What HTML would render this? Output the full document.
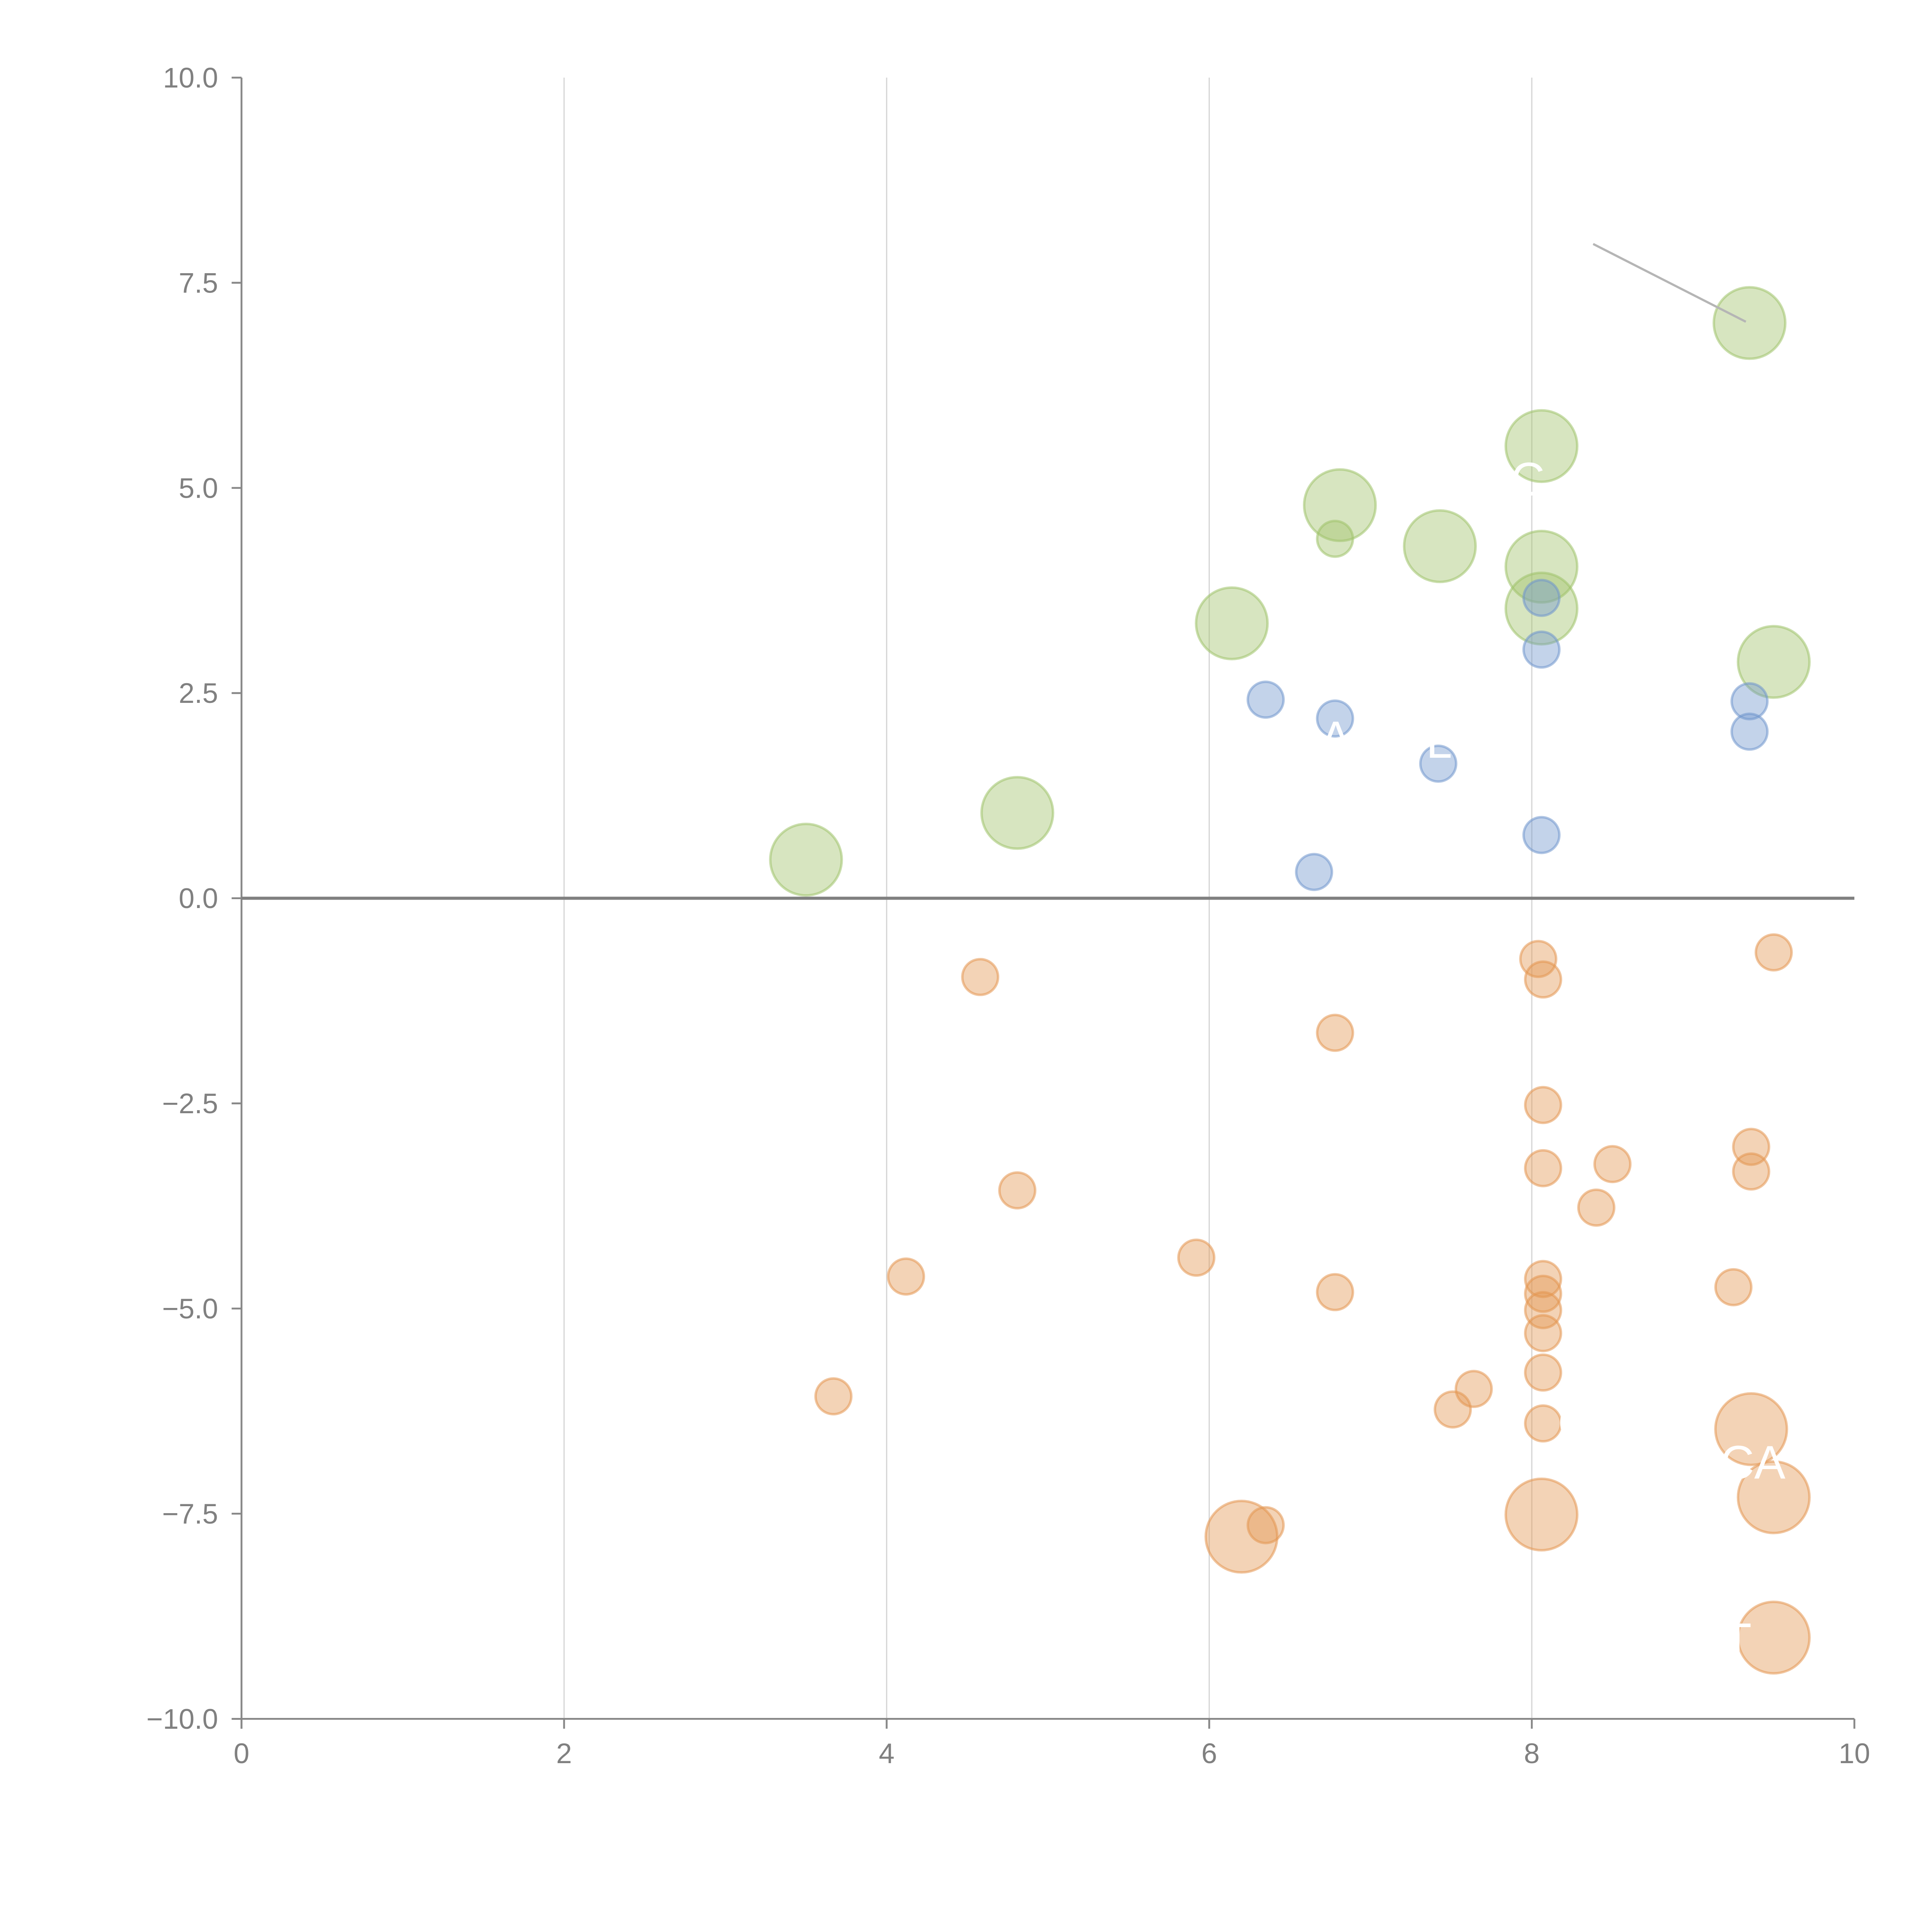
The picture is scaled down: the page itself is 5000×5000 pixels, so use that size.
<!DOCTYPE html>
<html><head><meta charset="utf-8">
<style>html,body{margin:0;padding:0;background:#fff;}svg{display:block;}</style>
</head><body>
<svg id="chart" width="5000" height="5000" viewBox="0 0 1568 1568" xmlns="http://www.w3.org/2000/svg" font-family="Liberation Sans, Arial, sans-serif">
<g id="grid"></g>
<g id="axes"></g>
<g id="marks"></g>
<g id="labels"></g>
</svg>
<script>
const xTicks = [0, 2, 4, 6, 8, 10];
const yTicks = [10, 7.5, 5, 2.5, 0, -2.5, -5, -7.5, -10];
const yTickLabels = ["10.0", "7.5", "5.0", "2.5", "0.0", "\u22122.5", "\u22125.0", "\u22127.5", "\u221210.0"];

const greenX = [3.50, 4.81, 6.14, 6.78, 6.81, 7.43, 8.06, 8.06, 8.06, 9.35, 9.50];
const greenY = [0.47, 1.04, 3.35, 4.38, 4.79, 4.29, 5.51, 4.04, 3.53, 7.01, 2.88];
const greenSize = [2, 2, 2, 1, 2, 2, 2, 2, 2, 2, 2];

const blueX = [6.35, 6.78, 7.42, 6.65, 8.06, 8.06, 8.06, 9.35, 9.35];
const blueY = [2.42, 2.19, 1.64, 0.32, 3.66, 3.03, 0.77, 2.40, 2.03];
const blueSize = [1, 1, 1, 1, 1, 1, 1, 1, 1];

const orangeX = [4.58, 6.78, 4.81, 4.12, 3.67, 5.92, 6.78, 6.35, 6.20, 7.51, 7.64, 8.04, 8.07, 8.07, 8.07, 8.07, 8.07, 8.07, 8.07, 8.07, 8.07, 8.06, 8.50, 8.40, 9.25, 9.36, 9.36, 9.50, 9.36, 9.50, 9.50];
const orangeY = [-0.96, -1.64, -3.56, -4.61, -6.07, -4.38, -4.80, -7.64, -7.78, -6.23, -5.98, -0.74, -0.99, -2.52, -3.29, -4.64, -4.82, -5.02, -5.30, -5.78, -6.40, -7.51, -3.24, -3.77, -4.74, -3.03, -3.33, -0.66, -6.47, -7.30, -9.01];
const orangeSize = [1,1,1,1,1,1,1,1,2,1,1,1,1,1,1,1,1,1,1,1,1,2,1,1,1,1,1,1,2,2,2];

const NS = "http://www.w3.org/2000/svg";
const L = 196, R = 1505, T = 63, B = 1395;
function xs(v){ return L + (v - 0) / 10 * (R - L); }
function ys(v){ return T + (10 - v) / 20 * (B - T); }
function rs(s){ return s === 2 ? 29 : (s === 1 ? 14.5 : 10); }
function mk(tag, attrs, parent){ const e = document.createElementNS(NS, tag); for (const k in attrs) e.setAttribute(k, attrs[k]); parent.appendChild(e); return e; }

const grid = document.getElementById('grid'), axes = document.getElementById('axes'), marks = document.getElementById('marks'), labels = document.getElementById('labels');

xTicks.forEach(t => {
  if (t > 0 && t < 10) {
    const g = mk('line', {x1: xs(t), x2: xs(t), y1: T, y2: B, stroke: '#d6d6d6', 'stroke-width': 1}, grid);
    
    
  }
  const tk = mk('line', {x1: xs(t), x2: xs(t), y1: B, y2: B + 8, stroke: '#888', 'stroke-width': 1.5}, axes);
  
  
  const tx = mk('text', {x: xs(t), y: B + 36, 'text-anchor': 'middle', 'font-size': 23, fill: '#808080'}, axes);
  tx.textContent = String(t);
  
  
});
yTicks.forEach((t, i) => {
  const tk = mk('line', {x1: L - 8, x2: L, y1: ys(t), y2: ys(t), stroke: '#888', 'stroke-width': 1.5}, axes);
  
  
  const tx = mk('text', {x: L - 19, y: ys(t) + 8, 'text-anchor': 'end', 'font-size': 23, fill: '#808080'}, axes);
  tx.textContent = yTickLabels[i];
  
  
});
const ya = mk('line', {x1: L, x2: L, y1: T, y2: B + 8, stroke: '#888', 'stroke-width': 1.5}, axes);


const xa = mk('line', {x1: L - 8, x2: R, y1: B, y2: B, stroke: '#888', 'stroke-width': 1.5}, axes);


const zl = mk('line', {x1: L, x2: R, y1: ys(0), y2: ys(0), stroke: '#808080', 'stroke-width': 2.5}, axes);



function drawSeries(X, Y, S, fill, stroke, name){
  X.forEach((x, i) => {
    const c = mk('circle', {cx: xs(x), cy: ys(Y[i]), r: rs(S[i]), fill: fill, 'fill-opacity': 0.42, stroke: stroke, 'stroke-opacity': 0.55, 'stroke-width': 2}, marks);
    
    
  });
}
drawSeries(greenX, greenY, greenSize, '#9fc26a', '#9fc26a', 'bubble-green');
drawSeries(blueX, blueY, blueSize, '#6f95cc', '#6f95cc', 'bubble-blue');
drawSeries(orangeX, orangeY, orangeSize, '#e39550', '#e39550', 'bubble-orange');

const ll = mk('line', {x1: xs(greenX[9]) - 3, y1: ys(greenY[9]) - 1, x2: 1293, y2: 198, stroke: '#b5b5b5', 'stroke-width': 1.8}, labels);



const lbls = [["C", 1240, 402], ["A", 1084, 612], ["L", 1168, 615], ["C", 1278, 1168], ["ACA", 1410, 1200], ["T", 1410, 1344]];
lbls.forEach(l => {
  const t = mk('text', {x: l[1], y: l[2], 'text-anchor': 'middle', 'font-size': 38, fill: '#fff'}, labels);
  t.textContent = l[0];
  
  
});
</script>
</body></html>
